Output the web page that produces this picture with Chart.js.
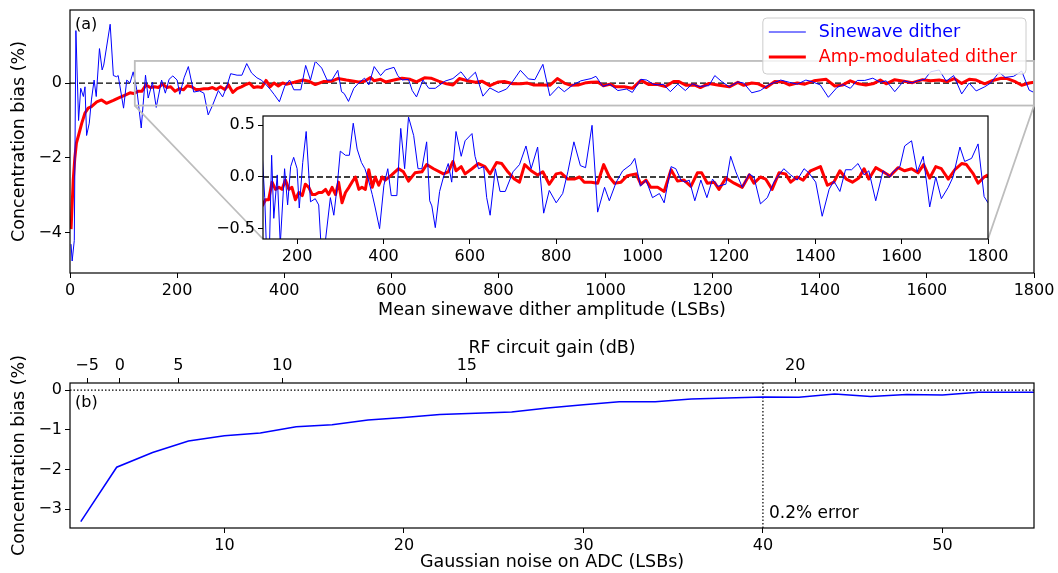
<!DOCTYPE html>
<html>
<head>
<meta charset="utf-8">
<script src="https://cdn.jsdelivr.net/npm/chart.js"></script>
<style>
  body { margin: 0; background: #fff; }
  #wrap { position: relative; width: 1058px; height: 573px; }
  canvas { position: absolute; }
</style>
</head>
<body>
<div id="wrap">
  <canvas id="chartA" width="1058" height="330" style="left:0;top:0"></canvas>
  <canvas id="inset" width="800" height="156" style="left:215px;top:112px"></canvas>
  <canvas id="chartB" width="1058" height="243" style="left:0;top:330px"></canvas>
</div>
<script>
// ---- panel (a): bias vs mean sinewave dither amplitude ----
const sineX = [
  2, 4, 8, 11, 16, 20, 25, 28, 31, 36,
  40, 45, 49, 55, 60, 63, 75, 81, 87, 90,
  100, 106, 112, 118, 125, 133, 141, 146, 154, 161,
  171, 178, 185, 192, 200, 205, 213, 221, 231, 242,
  250, 258, 266, 277, 285, 293, 300, 312, 321, 330,
  339, 349, 357, 364, 374, 381, 391, 401, 410, 418,
  431, 440, 449, 458, 470, 480, 489, 500, 507, 512,
  520, 530, 539, 550, 558, 568, 580, 589, 605, 612,
  620, 632, 639, 647, 659, 670, 682, 700, 715, 730,
  742, 757, 771, 784, 800, 815, 827, 841, 856, 868,
  883, 896, 912, 923, 939, 954, 973, 982, 995, 1008,
  1023, 1039, 1050, 1066, 1077, 1089, 1098, 1108, 1121, 1135,
  1149, 1162, 1174, 1193, 1204, 1216, 1231, 1247, 1258, 1273,
  1289, 1304, 1316, 1327, 1343, 1358, 1374, 1385, 1401, 1416,
  1432, 1443, 1457, 1470, 1484, 1499, 1513, 1524, 1540, 1557,
  1573, 1580, 1596, 1607, 1623, 1636, 1650, 1665, 1679, 1692,
  1708, 1719, 1735, 1746, 1762, 1777, 1791, 1800
];
const sineBias = [
  -4.3, -4.75, -4.2, 1.4, -1.0, -0.14, -0.36, -0.1, -1.4, -1.07,
  -0.45, 0.08, -0.36, 0.92, 0.35, 0.48, 1.57, 0.2, 0.17, 0.2,
  -0.67, 0.08, 0.0, 0.3, -0.2, -1.2, 0.21, -0.4, 0.02, -0.65,
  0.08, -0.27, 0.1, 0.19, 0.08, -0.3, 0.14, 0.44, -0.24, -0.21,
  -0.27, -0.85, -0.6, -0.2, -0.37, -0.08, 0.25, 0.21, 0.21, 0.52,
  0.27, 0.14, 0.08, -0.01, -0.17, -0.3, -0.5, -0.08, 0.08, -0.18,
  -0.18, 0.47, 0.08, 0.58, 0.4, 0.08, 0.08, 0.34, -0.23, -0.28,
  -0.49, -0.14, 0.0, 0.13, -0.05, 0.44, 0.2, 0.35, 0.42, 0.2,
  0.08, 0.1, -0.2, -0.37, 0.08, -0.14, -0.14, 0.05, 0.12, 0.3,
  0.08, 0.29, -0.35, -0.13, -0.25, -0.16, 0.05, 0.34, 0.11, 0.09,
  0.5, -0.34, -0.1, -0.23, -0.05, 0.06, 0.12, 0.18, -0.09, -0.03,
  -0.2, -0.16, -0.25, 0.1, 0.08, -0.03, -0.05, -0.03, -0.23, -0.03,
  -0.2, -0.02, -0.09, -0.07, 0.2, 0.05, -0.1, 0.03, 0.0, -0.26,
  -0.2, -0.05, 0.02, 0.08, 0.02, -0.03, 0.08, 0.04, -0.05, -0.38,
  -0.12, -0.04, -0.14, 0.07, 0.07, 0.13, 0.02, 0.06, -0.23, 0.06,
  0.0, 0.05, 0.1, 0.3, 0.35, 0.05, 0.2, -0.29, 0.0, -0.21,
  -0.1, 0.0, 0.29, 0.15, 0.18, 0.32, -0.19, -0.25
];
const amX = [
  2, 6, 9, 12, 17, 22, 28, 34, 40, 50,
  59, 68, 81, 93, 103, 112, 119, 127, 134, 142,
  150, 158, 165, 173, 181, 188, 196, 204, 212, 219,
  227, 235, 242, 250, 258, 266, 273, 281, 289, 296,
  304, 312, 320, 327, 335, 343, 350, 358, 366, 374,
  381, 389, 397, 404, 419, 435, 446, 458, 473, 489,
  500, 516, 539, 550, 561, 568, 580, 589, 605, 620,
  635, 647, 662, 674, 688, 703, 715, 727, 742, 757,
  769, 784, 800, 811, 827, 842, 854, 865, 881, 896,
  910, 923, 935, 950, 964, 973, 985, 996, 1008, 1019,
  1035, 1050, 1066, 1081, 1096, 1112, 1127, 1137, 1150, 1166,
  1177, 1193, 1212, 1231, 1247, 1258, 1273, 1285, 1300, 1316,
  1331, 1343, 1358, 1372, 1389, 1412, 1428, 1443, 1457, 1472,
  1486, 1501, 1513, 1524, 1540, 1557, 1573, 1592, 1607, 1623,
  1638, 1651, 1665, 1679, 1692, 1708, 1723, 1739, 1750, 1766,
  1777, 1791, 1800
];
const amBias = [
  -3.9, -2.6, -2.0, -1.6, -1.34, -1.07, -0.8, -0.67, -0.63, -0.5,
  -0.45, -0.54, -0.46, -0.38, -0.32, -0.26, -0.28, -0.22, -0.22, -0.05,
  -0.12, -0.1, -0.12, -0.03, -0.12, -0.1, -0.22, -0.15, -0.18, -0.07,
  -0.1, -0.17, -0.17, -0.15, -0.15, -0.12, -0.17, -0.1, -0.17, -0.05,
  -0.25, -0.15, -0.1, -0.05, 0.0, -0.12, -0.1, -0.12, 0.07, -0.1,
  0.0, -0.08, 0.0, -0.03, 0.02, 0.08, 0.05, -0.04, 0.04, 0.05,
  0.12, 0.08, 0.03, 0.05, 0.15, 0.06, 0.1, 0.03, 0.08, 0.13,
  0.1, 0.03, 0.14, 0.13, 0.05, -0.02, -0.05, 0.12, 0.06, 0.02,
  0.05, -0.07, 0.03, 0.04, -0.02, -0.02, 0.0, -0.05, -0.05, -0.06,
  0.12, 0.0, -0.06, -0.05, 0.01, 0.02, 0.03, -0.07, -0.03, -0.1,
  -0.1, -0.14, 0.07, -0.04, -0.03, -0.09, 0.04, 0.04, -0.06, -0.05,
  -0.12, -0.01, -0.06, -0.1, 0.02, -0.06, 0.0, -0.02, -0.12, 0.04,
  0.03, -0.05, 0.0, -0.03, 0.06, 0.1, -0.08, -0.05, 0.06, -0.02,
  -0.05, -0.01, 0.08, -0.02, 0.09, 0.05, 0.01, 0.09, 0.06, 0.08,
  0.04, 0.12, -0.01, 0.1, 0.08, -0.02, 0.07, 0.13, 0.12, 0.03,
  -0.06, 0.0, 0.02
];
const ampTicks = [0, 200, 400, 600, 800, 1000, 1200, 1400, 1600, 1800];
const biasTicksA = [-4, -2, 0];
const insetAmpTicks = [200, 400, 600, 800, 1000, 1200, 1400, 1600, 1800];
const insetBiasTicks = [-0.5, 0, 0.5];
const zoomAmp = [121, 1800];     // inset / zoom box x range
const zoomBias = [-0.6, 0.59];   // inset / zoom box y range

// ---- panel (b): bias vs gaussian noise ----
const noiseLSB = [2, 4, 6, 8, 10, 12, 14, 16, 18, 20, 22, 24, 26, 28,
                  30, 32, 34, 36, 38, 40, 42, 44, 46, 48, 50, 52, 54, 56];
const noiseBias = [-3.31, -1.94, -1.57, -1.28, -1.15, -1.08, -0.92, -0.87, -0.75, -0.69, -0.61, -0.58, -0.55, -0.45,
                   -0.37, -0.29, -0.29, -0.22, -0.2, -0.17, -0.18, -0.1, -0.16, -0.11, -0.12, -0.05, -0.05, -0.05];
const noiseTicks = [10, 20, 30, 40, 50];
const biasTicksB = [-3, -2, -1, 0];
const gainTicksDB = [-5, 0, 5, 10, 15, 20];
const noiseAt0dB = 4.18;          // LSBs of noise for 0 dB RF gain
const errorNoise = 40;            // 0.2% error marker

Chart.defaults.font.family = "'DejaVu Sans', sans-serif";
Chart.defaults.color = '#000';
Chart.defaults.animation = false;

const TICK_FONT = { family: "'DejaVu Sans', sans-serif", size: 16, lineHeight: 1.2 };
const LABEL_FONT = { family: "'DejaVu Sans', sans-serif", size: 17.5, lineHeight: 1.2 };

function fmt(v, d) {
  const s = Math.abs(v).toFixed(d);
  return (v < 0 ? '\u2212' : '') + s;
}
function pts(xs, ys) {
  return xs.map((x, i) => ({ x: x, y: ys[i] }));
}
function gainToNoise(db) {
  return noiseAt0dB * Math.pow(10, db / 20);
}

function scaleCfg(o) {
  return {
    type: 'linear',
    position: o.position,
    min: o.min,
    max: o.max,
    grid: { display: true, drawOnChartArea: false, drawTicks: true, tickLength: 5, color: '#000', lineWidth: 1 },
    border: { display: false },
    ticks: {
      font: TICK_FONT, color: '#000', padding: 3, maxRotation: 0, autoSkip: false,
      callback: o.label || ((v) => fmt(v, o.decimals || 0))
    },
    title: o.title
      ? { display: true, text: o.title, font: LABEL_FONT, color: '#000', padding: o.titlePad }
      : { display: false },
    afterBuildTicks: (s) => { s.ticks = o.ticks.map((v) => ({ value: v })); },
    afterFit: (s) => {
      if (s.isHorizontal()) s.height = o.size; else s.width = o.size;
      s.paddingLeft = 0; s.paddingRight = 0; s.paddingTop = 0; s.paddingBottom = 0;
    }
  };
}

function drawFrame(chart) {
  const { ctx, chartArea: a } = chart;
  ctx.save();
  ctx.strokeStyle = '#000';
  ctx.lineWidth = 1.2;
  ctx.strokeRect(a.left, a.top, a.right - a.left, a.bottom - a.top);
  ctx.restore();
}
function hLine(chart, value, dash, width) {
  const { ctx, chartArea: a, scales: { y } } = chart;
  const py = y.getPixelForValue(value);
  ctx.save();
  ctx.beginPath();
  ctx.setLineDash(dash);
  ctx.strokeStyle = '#000';
  ctx.lineWidth = width;
  ctx.moveTo(a.left, py);
  ctx.lineTo(a.right, py);
  ctx.stroke();
  ctx.restore();
}

function lineSets() {
  return [
    { label: 'Sinewave dither', data: pts(sineX, sineBias), borderColor: '#0000ff', borderWidth: 1,
      pointRadius: 0, tension: 0, clip: 0, borderJoinStyle: 'round' },
    { label: 'Amp-modulated dither', data: pts(amX, amBias), borderColor: '#ff0000', borderWidth: 3,
      pointRadius: 0, tension: 0, clip: 0, borderJoinStyle: 'round' }
  ];
}

// ---- inset ----
const insetPlugin = {
  id: 'insetPlugin',
  beforeDraw(chart) {
    const { ctx, chartArea: a } = chart;
    ctx.save();
    ctx.fillStyle = '#fff';
    ctx.fillRect(a.left, a.top, a.right - a.left, a.bottom - a.top);
    ctx.restore();
  },
  beforeDatasetsDraw(chart) { hLine(chart, 0, [6, 3], 1.3); },
  afterDatasetsDraw(chart) { drawFrame(chart); }
};

const insetChart = new Chart(document.getElementById('inset'), {
  type: 'line',
  data: { datasets: lineSets() },
  options: {
    responsive: false,
    devicePixelRatio: 1,
    layout: { padding: { left: 0, right: 27, top: 4, bottom: 0 } },
    plugins: { legend: { display: false }, tooltip: { enabled: false } },
    scales: {
      x: scaleCfg({ position: 'bottom', min: zoomAmp[0], max: zoomAmp[1], ticks: insetAmpTicks, size: 29 }),
      y: scaleCfg({ position: 'left', min: zoomBias[0], max: zoomBias[1], ticks: insetBiasTicks, decimals: 1, size: 48 })
    }
  },
  plugins: [insetPlugin]
});

// ---- main panel (a) ----
const insetCanvas = document.getElementById('inset');
const panelA = {
  id: 'panelA',
  beforeDatasetsDraw(chart) { hLine(chart, 0, [6, 3], 1.3); },
  afterDatasetsDraw(chart) {
    const { ctx, chartArea: a, scales: { x, y } } = chart;
    drawFrame(chart);

    // zoom box and connectors to the inset
    const bx0 = x.getPixelForValue(zoomAmp[0]), bx1 = x.getPixelForValue(zoomAmp[1]);
    const by0 = y.getPixelForValue(zoomBias[1]), by1 = y.getPixelForValue(zoomBias[0]);
    const ia = insetChart.chartArea;
    const ox = insetCanvas.offsetLeft, oy = insetCanvas.offsetTop;
    ctx.save();
    ctx.strokeStyle = '#bdbdbd';
    ctx.lineWidth = 1.8;
    ctx.strokeRect(bx0, by0, bx1 - bx0, by1 - by0);
    ctx.beginPath();
    ctx.moveTo(bx0, by1); ctx.lineTo(ox + ia.left, oy + ia.bottom);
    ctx.moveTo(bx1, by1); ctx.lineTo(ox + ia.right, oy + ia.bottom);
    ctx.stroke();
    ctx.restore();

    // panel letter
    ctx.save();
    ctx.font = '16px "DejaVu Sans"';
    ctx.fillStyle = '#000';
    ctx.textBaseline = 'middle';
    ctx.fillText('(a)', a.left + 5, a.top + 15);
    ctx.restore();

    // legend
    ctx.save();
    ctx.font = '17.5px "DejaVu Sans"';
    const sets = chart.data.datasets;
    const textW = Math.max(...sets.map((d) => ctx.measureText(d.label).width));
    const bw = 65 + textW, bh = 56;
    const bxr = a.right - 8, byt = a.top + 8;
    ctx.beginPath();
    ctx.roundRect(bxr - bw, byt, bw, bh, 4);
    ctx.fillStyle = 'rgba(255,255,255,0.8)';
    ctx.fill();
    ctx.strokeStyle = '#cccccc';
    ctx.lineWidth = 1;
    ctx.stroke();
    sets.forEach((d, i) => {
      const ly = byt + 14 + i * 25;
      ctx.beginPath();
      ctx.strokeStyle = d.borderColor;
      ctx.lineWidth = d.borderWidth;
      ctx.moveTo(bxr - bw + 6, ly);
      ctx.lineTo(bxr - bw + 43, ly);
      ctx.stroke();
      ctx.fillStyle = d.borderColor;
      ctx.textBaseline = 'middle';
      ctx.fillText(d.label, bxr - bw + 56, ly);
    });
    ctx.restore();
  }
};

new Chart(document.getElementById('chartA'), {
  type: 'line',
  data: { datasets: lineSets() },
  options: {
    responsive: false,
    devicePixelRatio: 1,
    layout: { padding: { left: 0, right: 24, top: 10, bottom: 0 } },
    plugins: { legend: { display: false }, tooltip: { enabled: false } },
    scales: {
      x: scaleCfg({ position: 'bottom', min: 0, max: 1800, ticks: ampTicks, size: 57,
        title: 'Mean sinewave dither amplitude (LSBs)', titlePad: { top: 0, bottom: 9.5 } }),
      y: scaleCfg({ position: 'left', min: -5.07, max: 1.95, ticks: biasTicksA, size: 70,
        title: 'Concentration bias (%)', titlePad: { top: 8.5, bottom: 0 } })
    }
  },
  plugins: [panelA]
});

// ---- panel (b) ----
const panelB = {
  id: 'panelB',
  beforeDatasetsDraw(chart) {
    const { ctx, chartArea: a, scales: { x } } = chart;
    hLine(chart, 0, [1.5, 2], 1.2);
    const px = x.getPixelForValue(errorNoise);
    ctx.save();
    ctx.beginPath();
    ctx.setLineDash([1.5, 2]);
    ctx.strokeStyle = '#000';
    ctx.lineWidth = 1.2;
    ctx.moveTo(px, a.top);
    ctx.lineTo(px, a.bottom);
    ctx.stroke();
    ctx.restore();
  },
  afterDatasetsDraw(chart) {
    const { ctx, chartArea: a, scales: { x, y } } = chart;
    drawFrame(chart);
    ctx.save();
    ctx.fillStyle = '#000';
    ctx.textBaseline = 'middle';
    ctx.font = '16px "DejaVu Sans"';
    ctx.fillText('(b)', a.left + 5, a.top + 20);
    ctx.font = '17px "DejaVu Sans"';
    ctx.fillText('0.2% error', x.getPixelForValue(errorNoise) + 6, y.getPixelForValue(-3.1));
    ctx.restore();
  }
};

new Chart(document.getElementById('chartB'), {
  type: 'line',
  data: {
    datasets: [{ label: 'Bias', data: pts(noiseLSB, noiseBias), borderColor: '#0000ff', borderWidth: 1.5,
      pointRadius: 0, tension: 0, clip: 0, xAxisID: 'x', yAxisID: 'y' }]
  },
  options: {
    responsive: false,
    devicePixelRatio: 1,
    layout: { padding: { left: 0, right: 24, top: 0, bottom: 0 } },
    plugins: { legend: { display: false }, tooltip: { enabled: false } },
    scales: {
      x: scaleCfg({ position: 'bottom', min: 1.4, max: 55.1, ticks: noiseTicks, size: 45,
        title: 'Gaussian noise on ADC (LSBs)', titlePad: { top: 0, bottom: 0 } }),
      x2: scaleCfg({ position: 'top', min: 1.4, max: 55.1, ticks: gainTicksDB.map(gainToNoise), size: 53,
        label: (v, i) => fmt(gainTicksDB[i], 0),
        title: 'RF circuit gain (dB)', titlePad: { top: 7.5, bottom: 0 } }),
      y: scaleCfg({ position: 'left', min: -3.47, max: 0.18, ticks: biasTicksB, size: 70,
        title: 'Concentration bias (%)', titlePad: { top: 8.5, bottom: 0 } })
    }
  },
  plugins: [panelB]
});
</script>
</body>
</html>
